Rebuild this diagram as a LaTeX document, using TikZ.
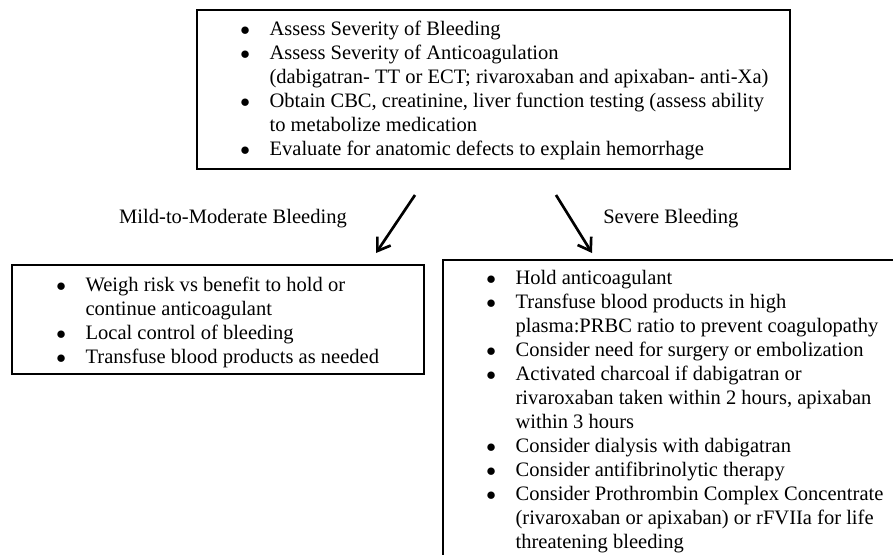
\documentclass[tikz,border=0pt]{standalone}
\usepackage{fontspec}
\setmainfont{Liberation Serif}
\usetikzlibrary{arrows.meta,positioning}

\tikzset{
  listbox/.style={draw,line width=1.1pt},
  listtext/.style={anchor=north west,inner sep=0pt,align=left,
    font=\fontsize{15.4}{18}\selectfont},
  flowarrow/.style={line width=2pt,-{Straight Barb[length=9pt,width=12pt,line width=2pt]}},
  branchlabel/.style={inner sep=0pt,font=\fontsize{15.4}{18}\selectfont}
}
\newcommand{\blt}{\makebox[22pt][l]{$\bullet$}}
\newcommand{\cnt}{\makebox[22pt][l]{}}

\begin{document}
\begin{tikzpicture}[x=0.75pt,y=-0.75pt]
\useasboundingbox (0,0) rectangle (893,554);
\clip (0,0) rectangle (893,554);
% boxes
\draw[listbox] (197,10) rectangle (790,169);
\draw[listbox] (12,265) rectangle (424,374);
\draw[listbox] (443,260) rectangle (910,580);
% top box
\node[listtext] (assess) at (240,21){%
\blt Assess Severity of Bleeding\\
\blt Assess Severity of Anticoagulation\\
\cnt (dabigatran- TT or ECT; rivaroxaban and apixaban- anti-Xa)\\
\blt Obtain CBC, creatinine, liver function testing (assess ability\\
\cnt to metabolize medication\\
\blt Evaluate for anatomic defects to explain hemorrhage};
% branch labels
\node[branchlabel] (mild) at (233,219){Mild-to-Moderate Bleeding};
\node[branchlabel,anchor=west] (severe) at (603,219){Severe Bleeding};
\coordinate (lt) at (415,195);
\coordinate (lh) at (376,253);
\coordinate (rt) at (556,195);
\coordinate (rh) at (592,253);
\draw[flowarrow] (lt) -- (lh);
\draw[flowarrow] (rt) -- (rh);
% left box
\node[listtext] (mildlist) at (56,277){%
\blt Weigh risk vs benefit to hold or\\
\cnt continue anticoagulant\\
\blt Local control of bleeding\\
\blt Transfuse blood products as needed};
% right box
\node[listtext] (severelist) at (486,270){%
\blt Hold anticoagulant\\
\blt Transfuse blood products in high\\
\cnt plasma:PRBC ratio to prevent coagulopathy\\
\blt Consider need for surgery or embolization\\
\blt Activated charcoal if dabigatran or\\
\cnt rivaroxaban taken within 2 hours, apixaban\\
\cnt within 3 hours\\
\blt Consider dialysis with dabigatran\\
\blt Consider antifibrinolytic therapy\\
\blt Consider Prothrombin Complex Concentrate\\
\cnt (rivaroxaban or apixaban) or rFVIIa for life\\
\cnt threatening bleeding};
\end{tikzpicture}
\end{document}
